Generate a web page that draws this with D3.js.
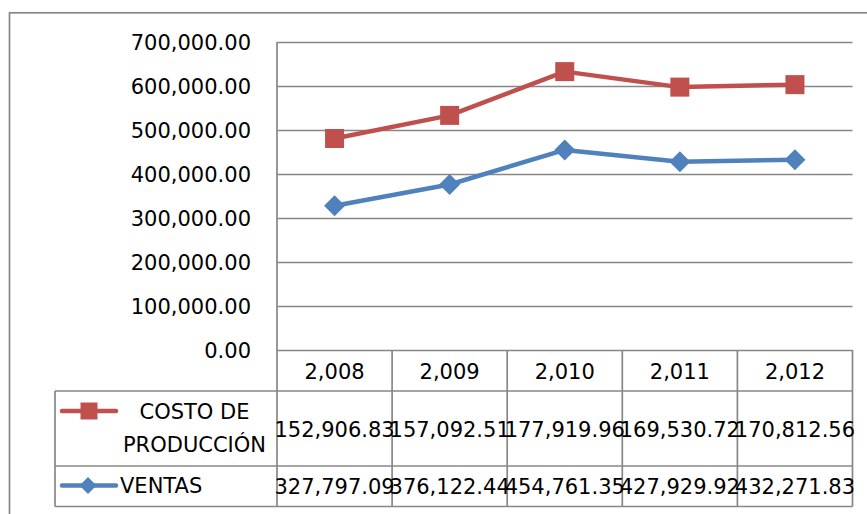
<!DOCTYPE html>
<html><head><meta charset="utf-8">
<script src="https://cdn.jsdelivr.net/npm/d3@7"></script>
<style>
body{margin:0;background:#fff}
svg{display:block}
text{font-family:"DejaVu Sans",sans-serif;font-size:21px;fill:#000}
</style>
</head><body>
<svg id="c" width="867" height="514"></svg>
<script>
// ---- data ----
const years = ["2,008", "2,009", "2,010", "2,011", "2,012"];
const costoProduccion = [152906.83, 157092.51, 177919.96, 169530.72, 170812.56];
const ventas = [327797.09, 376122.44, 454761.35, 427929.92, 432271.83];
const yTickValues = [0, 100000, 200000, 300000, 400000, 500000, 600000, 700000];
const seriesLabels = [["COSTO DE", "PRODUCCIÓN"], ["VENTAS"]];

// ---- layout ----
const plotL = 277, plotR = 852.5, plotT = 42, plotB = 350;
const row1T = 391, row2T = 466, tableB = 506.5, legendL = 55;
const gridColor = "#878787";
const lw = 1.7;
const red = "#C0504D", blue = "#4F81BD";
const fmt = d3.format(",.2f");

const svg = d3.select("#c");

// outer chart border (extends beyond window right/bottom)
svg.append("rect").attr("x", 9.5).attr("y", 12.8).attr("width", 900).attr("height", 600)
  .attr("fill", "none").attr("stroke", gridColor).attr("stroke-width", lw);

const x = d3.scaleBand().domain(years).range([plotL, plotR]).padding(0);
const y = d3.scaleLinear().domain([0, 700000]).range([plotB, plotT]);

// gridlines + y labels via axis
const yAxis = d3.axisLeft(y).tickValues(yTickValues).tickFormat(fmt)
  .tickSize(-(plotR - plotL)).tickPadding(26);
const ga = svg.append("g").attr("transform", `translate(${plotL},0)`).call(yAxis);
ga.select(".domain").remove();
ga.selectAll(".tick line").attr("stroke", gridColor).attr("stroke-width", lw);
ga.selectAll(".tick text").attr("font-family", "DejaVu Sans").attr("font-size", 21).attr("fill", "#000").attr("dy", "0.36em");

// table lines
const tl = svg.append("g").attr("stroke", gridColor).attr("stroke-width", lw).attr("fill", "none");
tl.append("line").attr("x1", plotL).attr("x2", plotL).attr("y1", plotT).attr("y2", tableB);
years.forEach(yr => {
  const xr = x(yr) + x.bandwidth();
  tl.append("line").attr("x1", xr).attr("x2", xr).attr("y1", plotB).attr("y2", tableB);
});
[row1T, row2T, tableB].forEach(yy => {
  tl.append("line").attr("x1", legendL).attr("x2", plotR).attr("y1", yy).attr("y2", yy);
});
tl.append("line").attr("x1", legendL).attr("x2", legendL).attr("y1", row1T).attr("y2", tableB);

// header years
svg.append("g").selectAll("text").data(years).join("text")
  .attr("x", d => x(d) + x.bandwidth() / 2).attr("y", 378.5)
  .attr("text-anchor", "middle").text(d => d);

// table values
svg.append("g").selectAll("text").data(costoProduccion).join("text")
  .attr("x", (d, i) => x(years[i]) + x.bandwidth() / 2).attr("y", 436.5)
  .attr("text-anchor", "middle").text(d => fmt(d));
svg.append("g").selectAll("text").data(ventas).join("text")
  .attr("x", (d, i) => x(years[i]) + x.bandwidth() / 2).attr("y", 494)
  .attr("text-anchor", "middle").text(d => fmt(d));

// stacked line values
const stacked = ventas.map((v, i) => v + costoProduccion[i]);

const line = d3.line().x((d, i) => x(years[i]) + x.bandwidth() / 2).y(d => y(d));

// red (stacked) series
svg.append("path").datum(stacked).attr("d", line).attr("fill", "none")
  .attr("stroke", red).attr("stroke-width", 4.5).attr("stroke-linejoin", "round").attr("stroke-linecap", "round");
svg.append("g").selectAll("rect").data(stacked).join("rect")
  .attr("x", (d, i) => x(years[i]) + x.bandwidth() / 2 - 9.5).attr("y", d => y(d) - 9.5)
  .attr("width", 19).attr("height", 19).attr("fill", red);

// blue series
svg.append("path").datum(ventas).attr("d", line).attr("fill", "none")
  .attr("stroke", blue).attr("stroke-width", 4.5).attr("stroke-linejoin", "round").attr("stroke-linecap", "round");
const diamond = s => `M0,${-s}L${s},0L0,${s}L${-s},0Z`;
svg.append("g").selectAll("path").data(ventas).join("path")
  .attr("transform", (d, i) => `translate(${x(years[i]) + x.bandwidth() / 2},${y(d)})`)
  .attr("d", diamond(10.5)).attr("fill", blue);

// legend keys
const lg = svg.append("g");
lg.append("line").attr("x1", 62).attr("x2", 116).attr("y1", 411).attr("y2", 411)
  .attr("stroke", red).attr("stroke-width", 4.5).attr("stroke-linecap", "round");
lg.append("rect").attr("x", 80.5).attr("y", 402.5).attr("width", 17).attr("height", 17).attr("fill", red);
lg.append("line").attr("x1", 62).attr("x2", 116).attr("y1", 485.5).attr("y2", 485.5)
  .attr("stroke", blue).attr("stroke-width", 4.5).attr("stroke-linecap", "round");
lg.append("path").attr("transform", "translate(88,485.5)").attr("d", diamond(8.5)).attr("fill", blue);

// legend labels
const l1 = lg.append("text").attr("text-anchor", "middle");
l1.append("tspan").attr("x", 194.5).attr("y", 419).text(seriesLabels[0][0]);
l1.append("tspan").attr("x", 194.5).attr("y", 452).text(seriesLabels[0][1]);
lg.append("text").attr("x", 120).attr("y", 492.5).text(seriesLabels[1][0]);
</script>
</body></html>
